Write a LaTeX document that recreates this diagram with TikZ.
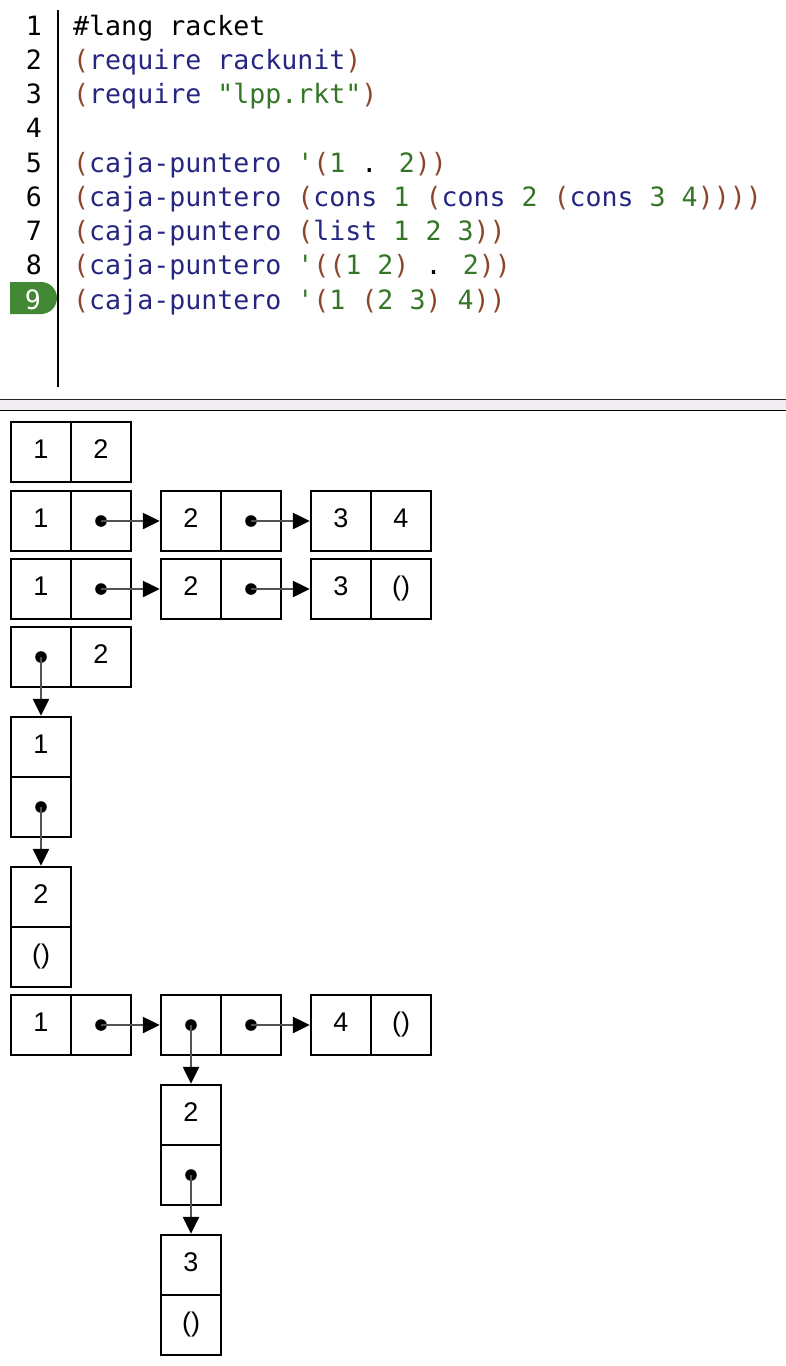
\documentclass[tikz,border=0pt]{standalone}
\usepackage{fontspec}
\usepackage{xcolor}
\usepackage{tikz}
\usetikzlibrary{arrows.meta,shapes.misc}

\newfontfamily\codefont{DejaVu Sans Mono}
\newfontfamily\boxfont{Liberation Sans}

\definecolor{paren}{RGB}{139,69,44}
\definecolor{kw}{RGB}{38,38,128}
\definecolor{lit}{RGB}{52,118,38}
\definecolor{badge}{RGB}{66,136,52}
\definecolor{band}{RGB}{240,237,243}

\newcommand{\pa}[1]{\textcolor{paren}{#1}}
\newcommand{\kw}[1]{\textcolor{kw}{#1}}
\newcommand{\lt}[1]{\textcolor{lit}{#1}}

\begin{document}
\begin{tikzpicture}[x=1pt, y=-1pt]
        \tikzstyle{code} = [anchor=base west, inner sep=0, font=\codefont\fontsize{26.6}{34}\selectfont]
        \tikzstyle{num} = [anchor=base, inner sep=0, font=\codefont\fontsize{26.6}{34}\selectfont]
        \tikzstyle{cell} = [draw, line width=2.4pt, minimum width=60pt, minimum height=60pt, inner sep=0,
                            text height=19.5pt, text depth=7pt, font=\boxfont\fontsize{27}{30}\selectfont]
        \tikzstyle{ptr} = [draw=black!68, line width=2.4pt, -{Triangle[length=17pt,width=16pt,black]}]
        \useasboundingbox (0,0) rectangle (786,1366);

        % editor
        \node[fill=badge, rounded rectangle, rounded rectangle left arc=none,
              minimum width=47pt, minimum height=32pt, inner sep=0] (hl) at (33.5,298) {};
        \foreach \i in {1,...,8}
            \node[num] (n\i) at (34, {35+34.25*(\i-1)}) {\i};
        \node[num, text=white] (n9) at (33, 309) {9};
        \draw[line width=1.5pt] (58,10) -- (58,387);

        \node[code] (l1) at (73, 35) {\#lang racket};
        \node[code] (l2) at (73, 69.25) {\pa{(}\kw{require rackunit}\pa{)}};
        \node[code] (l3) at (73, 103.5) {\pa{(}\kw{require} \lt{"lpp.rkt"}\pa{)}};
        \node[code] (l5) at (73, 172) {\pa{(}\kw{caja-puntero} \lt{'}\pa{(}\lt{1} . \lt{2}\pa{))}};
        \node[code] (l6) at (73, 206.25) {\pa{(}\kw{caja-puntero} \pa{(}\kw{cons} \lt{1} \pa{(}\kw{cons} \lt{2} \pa{(}\kw{cons} \lt{3 4}\pa{))))}};
        \node[code] (l7) at (73, 240.5) {\pa{(}\kw{caja-puntero} \pa{(}\kw{list} \lt{1 2 3}\pa{))}};
        \node[code] (l8) at (73, 274.75) {\pa{(}\kw{caja-puntero} \lt{'}\pa{((}\lt{1 2}\pa{)} . \lt{2}\pa{))}};
        \node[code] (l9) at (73, 309) {\pa{(}\kw{caja-puntero} \lt{'}\pa{(}\lt{1} \pa{(}\lt{2 3}\pa{)} \lt{4}\pa{))}};

        % separator
        \fill[band] (0,400) rectangle (786,410);
        \draw[line width=1.2pt, black!85] (0,399.5) -- (786,399.5);
        \draw[line width=1pt] (0,410.5) -- (786,410.5);

        % '(1 . 2)
        \node[cell] (a1) at (41,452) {1};
        \node[cell] (a2) at (101,452) {2};

        % (cons 1 (cons 2 (cons 3 4)))
        \node[cell] (b1) at (41,521) {1};
        \node[cell] (b2) at (101,521) {};
        \node[cell] (b3) at (191,521) {2};
        \node[cell] (b4) at (251,521) {};
        \node[cell] (b5) at (341,521) {3};
        \node[cell] (b6) at (401,521) {4};

        % (list 1 2 3)
        \node[cell] (c1) at (41,589) {1};
        \node[cell] (c2) at (101,589) {};
        \node[cell] (c3) at (191,589) {2};
        \node[cell] (c4) at (251,589) {};
        \node[cell] (c5) at (341,589) {3};
        \node[cell] (c6) at (401,589) {()};

        % '((1 2) . 2)
        \node[cell] (d1) at (41,657) {};
        \node[cell] (d2) at (101,657) {2};
        \node[cell] (d3) at (41,747) {1};
        \node[cell] (d4) at (41,807) {};
        \node[cell] (d5) at (41,897) {2};
        \node[cell] (d6) at (41,957) {()};

        % '(1 (2 3) 4)
        \node[cell] (e1) at (41,1025) {1};
        \node[cell] (e2) at (101,1025) {};
        \node[cell] (e3) at (191,1025) {};
        \node[cell] (e4) at (251,1025) {};
        \node[cell] (e5) at (341,1025) {4};
        \node[cell] (e6) at (401,1025) {()};
        \node[cell] (e7) at (191,1115) {2};
        \node[cell] (e8) at (191,1175) {};
        \node[cell] (e9) at (191,1265) {3};
        \node[cell] (e10) at (191,1325) {()};

        \foreach \from/\to in {b2/b3.west, b4/b5.west, c2/c3.west, c4/c5.west, d1/d3.north, d4/d5.north,
                               e2/e3.west, e3/e7.north, e4/e5.west, e8/e9.north} {
            \fill (\from.center) circle (5.8pt);
            \draw[ptr] (\from.center) -- (\to);
        }
    \end{tikzpicture}
\end{document}
